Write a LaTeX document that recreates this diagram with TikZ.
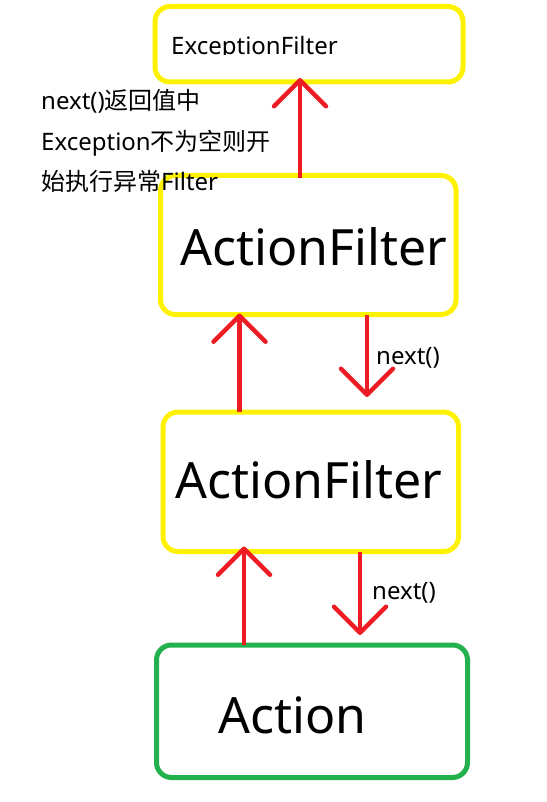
\documentclass[tikz,border=0pt]{standalone}
\usepackage{fontspec}
\setmainfont{Noto Sans}
\newfontfamily\cjk{Noto Sans CJK SC}
\usetikzlibrary{arrows.meta}
\definecolor{pyellow}{HTML}{FFF200}
\definecolor{pred}{HTML}{ED1C24}
\definecolor{pgreen}{HTML}{22B14C}
\tikzset{
  boxy/.style={draw=pyellow, line width=5pt, rounded corners=15pt, rectangle, outer sep=0pt, inner sep=0pt},
  boxg/.style={draw=pgreen, line width=5pt, rounded corners=15pt, rectangle, outer sep=0pt, inner sep=0pt},
  arr/.style={draw=pred, line width=4.5pt, -{Straight Barb[length=26pt,width=52pt,round]}},
  small/.style={inner sep=0pt, anchor=base west, font=\fontsize{24}{28}\selectfont},
  big/.style={inner sep=0pt, anchor=base west, font=\fontsize{50}{58}\selectfont},
}
\begin{document}
\begin{tikzpicture}[x=1pt,y=-1pt]
\fill[white] (0,0) rectangle (546,802);
\useasboundingbox (0,0) rectangle (546,802);

% boxes
\node[boxy, minimum width=308pt, minimum height=75.5pt] (ex) at (309,44.25) {};
\node[boxy, minimum width=295.5pt, minimum height=139pt] (af1) at (308.25,245) {};
\node[boxy, minimum width=295.5pt, minimum height=139.5pt] (af2) at (310.75,481.75) {};
\node[boxg, minimum width=311pt, minimum height=132.5pt] (act) at (312,711.25) {};

% box texts
\begin{scope}
\clip (150,0) rectangle (470,55);
\node[small] (extxt) at (171,54.5) {ExceptionFilter};
\end{scope}
\node[big] (af1txt) at (180,265) {ActionFilter};
\node[big] (af2txt) at (175,498) {ActionFilter};
\node[big] (acttxt) at (218,733) {Action};

% side note
\node[small] (n1) at (41,110) {next(){\cjk 返回值中}};
\node[small] (n2) at (41,151) {Exception{\cjk 不为空则开}};
\node[small] (n3) at (41,191) {{\cjk 始执行异常}Filter};

% connector x positions
\coordinate (xa) at (300,0);
\coordinate (xb) at (239.5,0);
\coordinate (xc) at (367,0);
\coordinate (xd) at (244,0);
\coordinate (xe) at (360,0);

% connectors
\draw[arr, shorten <=-3pt, shorten >=-4pt] (af1.north -| xa) -- (ex.south -| xa);
\draw[arr, shorten >=-1pt] (af2.north -| xb) -- (af1.south -| xb);
\draw[arr, shorten >=15pt] (af1.south -| xc) -- (af2.north -| xc);
\draw[arr, shorten >=-5pt] (act.north -| xd) -- (af2.south -| xd);
\draw[arr, shorten >=10pt] (af2.south -| xe) -- (act.north -| xe);

% labels
\node[small] (l1) at (376,364) {next()};
\node[small] (l2) at (372,599) {next()};
\end{tikzpicture}
\end{document}
